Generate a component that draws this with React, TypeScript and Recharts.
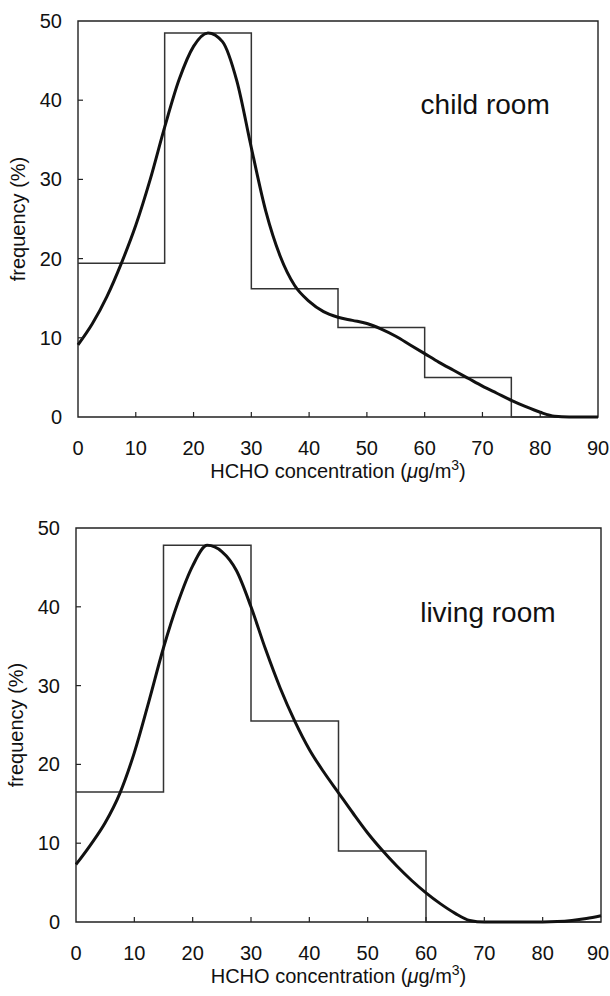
import {
  ComposedChart,
  Label,
  Line,
  ReferenceArea,
  ReferenceDot,
  XAxis,
  YAxis
} from "recharts";

// axis ticks
const xTicks = [0, 10, 20, 30, 40, 50, 60, 70, 80, 90];
const yTicks = [0, 10, 20, 30, 40, 50];

// histogram bins (left edges) and frequencies (%)
const binEdges = [0, 15, 30, 45, 60, 75, 90];
const childBins = [19.4, 48.5, 16.2, 11.3, 5.0, 0, 0];
const livingBins = [16.5, 47.8, 25.5, 9.0, 0, 0, 0];

// fitted density curves
const curveX = [
  0, 2.5, 5, 7.5, 10, 12.5, 15, 17.5, 20, 22.5, 25, 27.5, 30, 32.5, 35, 37.5, 40, 42.5, 45,
  47.5, 50, 52.5, 55, 57.5, 60, 62.5, 65, 67.5, 70, 72.5, 75, 77.5, 80, 82.5, 85, 87.5, 90
];
const childCurve = [
  9.1, 11.8, 15.2, 19.4, 24.2, 30.0, 36.6, 42.6, 46.8, 48.5, 47.4, 42.4, 34.0, 26.0, 20.3,
  16.6, 14.6, 13.3, 12.6, 12.2, 11.8, 11.1, 10.2, 9.1, 8.0, 6.9, 5.9, 4.9, 3.9, 3.0, 2.1,
  1.3, 0.6, 0.1, 0, 0, 0
];
const livingCurve = [
  7.3, 9.8, 12.6, 16.3, 21.5, 28.0, 34.8, 40.6, 45.2, 47.8, 47.0, 44.6, 40.0, 34.6, 29.7,
  25.5, 21.9, 19.0, 16.4, 13.8, 11.3, 9.1, 7.1, 5.3, 3.7, 2.3, 1.1, 0.2, 0, 0, 0, 0, 0, 0.05,
  0.2, 0.45, 0.8
];

const FONT = '"Liberation Sans", Arial, Helvetica, sans-serif';
const INK = "#111";

const toPoints = (xs: number[], ys: number[]) => xs.map((x, i) => ({ x, y: ys[i] }));

function XTick({ x, y, payload }: any) {
  const v = payload.value;
  // keep the last label inside the page
  const tx = Math.min(x, 598);
  return (
    <g>
      {v > 0 && v < 90 ? (
        <line x1={x} x2={x} y1={y} y2={y - 5} stroke="#222" strokeWidth={1.2} />
      ) : null}
      <text x={tx} y={y + 38} textAnchor="middle" fontSize={20} fontFamily={FONT} fill={INK}>
        {v}
      </text>
    </g>
  );
}

function YTick({ x, y, payload }: any) {
  const v = payload.value;
  return (
    <g>
      {v > 0 && v < 50 ? (
        <line x1={x} x2={x + 5} y1={y} y2={y} stroke="#222" strokeWidth={1.2} />
      ) : null}
      <text x={x - 16} y={y + 7} textAnchor="end" fontSize={20} fontFamily={FONT} fill={INK}>
        {v}
      </text>
    </g>
  );
}

function XTitle({ viewBox }: any) {
  const cx = viewBox.x + viewBox.width / 2;
  return (
    <text x={cx} y={viewBox.y + 61} textAnchor="middle" fontSize={20} fontFamily={FONT} fill={INK}>
      HCHO concentration (<tspan fontStyle="italic">μ</tspan>g/m
      <tspan dy={-8} fontSize={14}>3</tspan>
      <tspan dy={8}>)</tspan>
    </text>
  );
}

function YTitle({ viewBox }: any) {
  const cx = viewBox.x + 7;
  const cy = viewBox.y + viewBox.height / 2;
  return (
    <text
      x={cx}
      y={cy}
      transform={`rotate(-90, ${cx}, ${cy})`}
      textAnchor="middle"
      fontSize={20}
      fontFamily={FONT}
      fill={INK}
    >
      frequency (%)
    </text>
  );
}

function Panel({
  bins,
  curve,
  room,
  roomAt,
  height,
  margin
}: {
  bins: number[];
  curve: number[];
  room: string;
  roomAt: [number, number];
  height: number;
  margin: { top: number; right: number; bottom: number; left: number };
}) {
  return (
    <ComposedChart width={610} height={height} margin={margin}>
      <XAxis
        type="number"
        dataKey="x"
        domain={[0, 90]}
        ticks={xTicks}
        interval={0}
        axisLine={false}
        tickLine={false}
        tickSize={0}
        tickMargin={0}
        height={60}
        tick={XTick}
      >
        <Label content={XTitle} />
      </XAxis>
      <YAxis
        type="number"
        domain={[0, 50]}
        ticks={yTicks}
        interval={0}
        axisLine={false}
        tickLine={false}
        tickSize={0}
        tickMargin={0}
        width={60}
        tick={YTick}
      >
        <Label content={YTitle} />
      </YAxis>
      <ReferenceArea
        x1={0}
        x2={90}
        y1={0}
        y2={50}
        fill="none"
        fillOpacity={0}
        stroke="#222"
        strokeWidth={1.4}
      />
      <Line
        data={toPoints(binEdges, bins)}
        dataKey="y"
        type="stepAfter"
        stroke="#333"
        strokeWidth={1.5}
        dot={false}
        isAnimationActive={false}
      />
      <Line
        data={toPoints(curveX, curve)}
        dataKey="y"
        type="monotone"
        stroke={INK}
        strokeWidth={3}
        dot={false}
        isAnimationActive={false}
      />
      <ReferenceDot
        x={roomAt[0]}
        y={roomAt[1]}
        r={0}
        fill="none"
        stroke="none"
        label={(props: any) => (
          <text
            x={props.viewBox.x}
            y={props.viewBox.y}
            fontSize={28}
            fontFamily={FONT}
            fill={INK}
          >
            {room}
          </text>
        )}
      />
    </ComposedChart>
  );
}

export default function App() {
  return (
    <div style={{ position: "absolute", left: 0, top: 0, width: 610, height: 996, background: "#fff" }}>
      <div style={{ position: "absolute", left: 0, top: 0 }}>
        <Panel
          bins={childBins}
          curve={childCurve}
          room="child room"
          roomAt={[59.3, 38.3]}
          height={490}
          margin={{ top: 21, right: 12, bottom: 13, left: 18 }}
        />
      </div>
      <div style={{ position: "absolute", left: 0, top: 490 }}>
        <Panel
          bins={livingBins}
          curve={livingCurve}
          room="living room"
          roomAt={[59.0, 38.1]}
          height={506}
          margin={{ top: 38, right: 9, bottom: 14, left: 16 }}
        />
      </div>
    </div>
  );
}
